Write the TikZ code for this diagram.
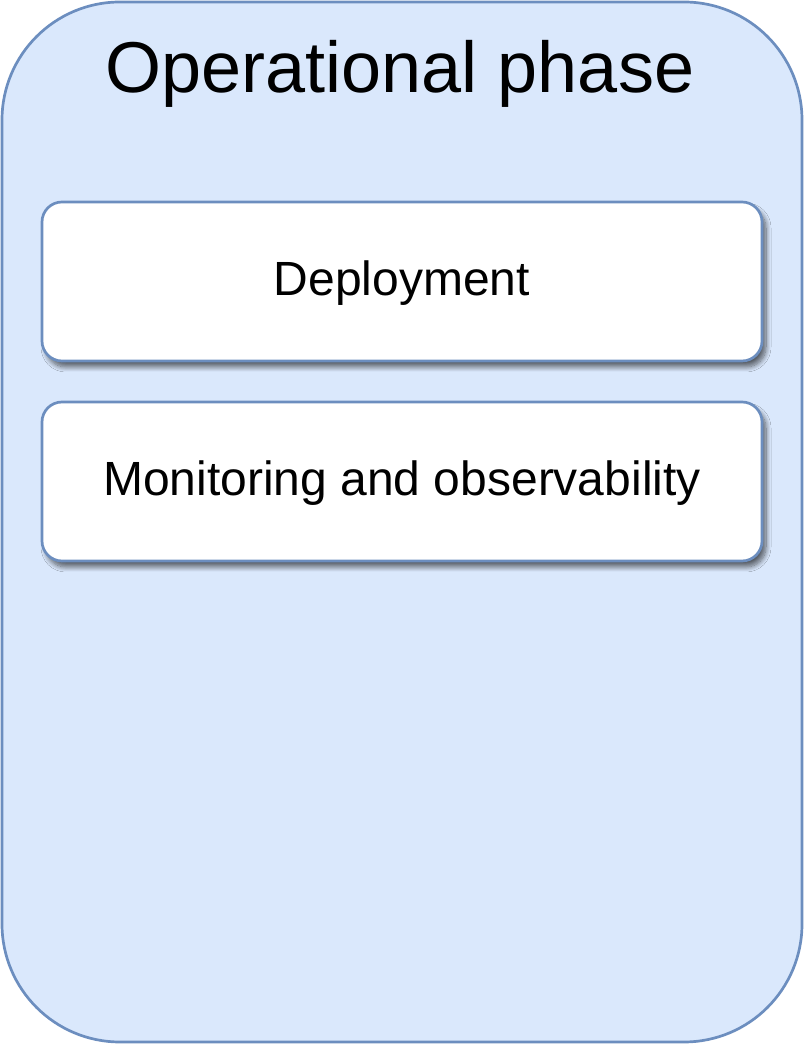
\documentclass[tikz,border=0pt]{standalone}
\usepackage{fontspec}
\setmainfont{Liberation Sans}
\usetikzlibrary{shadows.blur}
\definecolor{phasefill}{HTML}{DAE8FC}
\definecolor{phaseline}{HTML}{6C8EBF}
\begin{document}
\begin{tikzpicture}[x=1pt, y=1pt,
    phase/.style ={draw=phaseline, fill=phasefill, line width=2.7pt, rounded corners=118pt,
                   minimum width=800pt, minimum height=1040pt, inner sep=0pt},
    task/.style ={draw=phaseline, fill=white, line width=2.7pt, rounded corners=20pt,
                  minimum width=720pt, minimum height=159pt, inner sep=0pt,
                  text height=34pt, text depth=5pt, font=\fontsize{48}{56}\selectfont,
                  blur shadow={shadow xshift=4pt, shadow yshift=-6pt, shadow blur radius=5pt,
                               shadow blur steps=10, shadow opacity=60}}]
   \useasboundingbox (0,0) rectangle (804,1044);
   \node[phase] (P) at (402,522) {};
   \node[anchor=base, font=\fontsize{72}{80}\selectfont] (T) at (400,951) {Operational phase};
   \node[task] (D) at (402,762.5) {Deployment};
   \node[task] (M) at (402,562.5) {Monitoring and observability};
\end{tikzpicture}
\end{document}
